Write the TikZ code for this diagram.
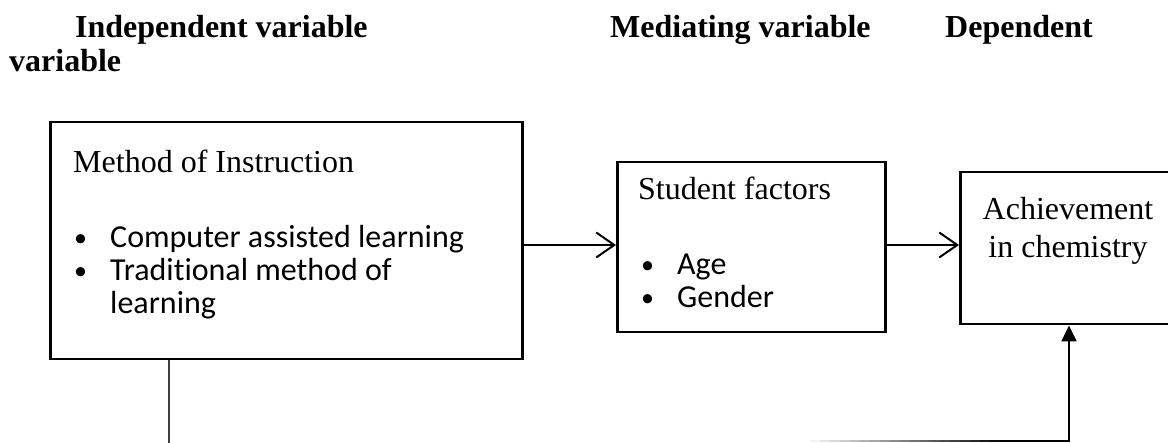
\documentclass[tikz,border=0pt]{standalone}
\usepackage{fontspec}
\setmainfont{Liberation Serif}
\newfontfamily\calibrifont[Ligatures={NoCommon}]{Carlito}
\usetikzlibrary{arrows.meta}
\begin{document}
\begin{tikzpicture}[x=1pt,y=-1pt,
  box/.style={draw, line width=2.5pt, inner sep=0pt, anchor=north west},
  txt/.style={inner sep=0pt, anchor=base west, font=\fontsize{32}{38}\selectfont},
  hdr/.style={inner sep=0pt, anchor=base west, font=\fontsize{32}{38}\selectfont\bfseries},
  sans/.style={inner sep=0pt, anchor=base west, font=\fontsize{32}{38}\selectfont\calibrifont},
  bul/.style={inner sep=0pt, anchor=base west, font=\fontsize{26}{30}\selectfont\calibrifont},
  conn/.style={line width=2pt, -{Straight Barb[length=18pt,width=25pt,line width=2pt]}},
  upconn/.style={line width=2.5pt, -{Triangle[length=16pt,width=15pt]}},
]
\useasboundingbox (0,0) rectangle (1168,443);
\clip (0,0) rectangle (1168,443);

% headers
\node[hdr] (h1) at (75,38) {Independent variable};
\node[hdr] (h2) at (9,72) {variable};
\node[hdr] (h3) at (610,38) {Mediating variable};
\node[hdr] (h4) at (945,38) {Dependent};

% boxes
\node[box, minimum width=472pt, minimum height=237pt] (lbox) at (49,121) {};
\node[box, minimum width=268pt, minimum height=170pt] (mbox) at (616,161) {};
\node[box, minimum width=240pt, minimum height=152pt] (rbox) at (959,171) {};

% left box text
\node[txt] (t1) at (73,173) {Method of Instruction};
\node[bul] (b1) at (74,247) {•};
\node[sans] (t2) at (110,248) {Computer assisted learning};
\node[bul] (b2) at (74,280) {•};
\node[sans] (t3) at (110,281) {Traditional method of};
\node[sans] (t4) at (110,314) {learning};

% middle box text
\node[txt] (t5) at (638,200) {Student factors};
\node[bul] (b3) at (641,274) {•};
\node[sans] (t6) at (677,275) {Age};
\node[bul] (b4) at (641,307) {•};
\node[sans] (t7) at (677,308) {Gender};

% right box text
\node[txt, anchor=base] (t8) at (1068,220) {Achievement};
\node[txt, anchor=base] (t9) at (1068,258) {in chemistry};

% connectors
\coordinate (ay) at (0,245);
\draw[conn] (lbox.east |- ay) -- (mbox.west |- ay);
\draw[conn] (mbox.east |- ay) -- (rbox.west |- ay);

\coordinate (c1) at (169,445);
\draw[line width=1.5pt, black!75] (lbox.south -| c1) -- (c1);

\coordinate (c2) at (1069,441);
\coordinate (c4) at (1005,441);
\foreach \i in {0,...,20} {
  \pgfmathsetmacro{\shadeval}{5*\i}
  \draw[line width=2.2pt, black!\shadeval!white, line cap=butt]
    (800+10*\i,441) -- (811+10*\i,441);
}
\draw[upconn] (c4) -- (c2) -- (c2 |- rbox.south);
\end{tikzpicture}
\end{document}
